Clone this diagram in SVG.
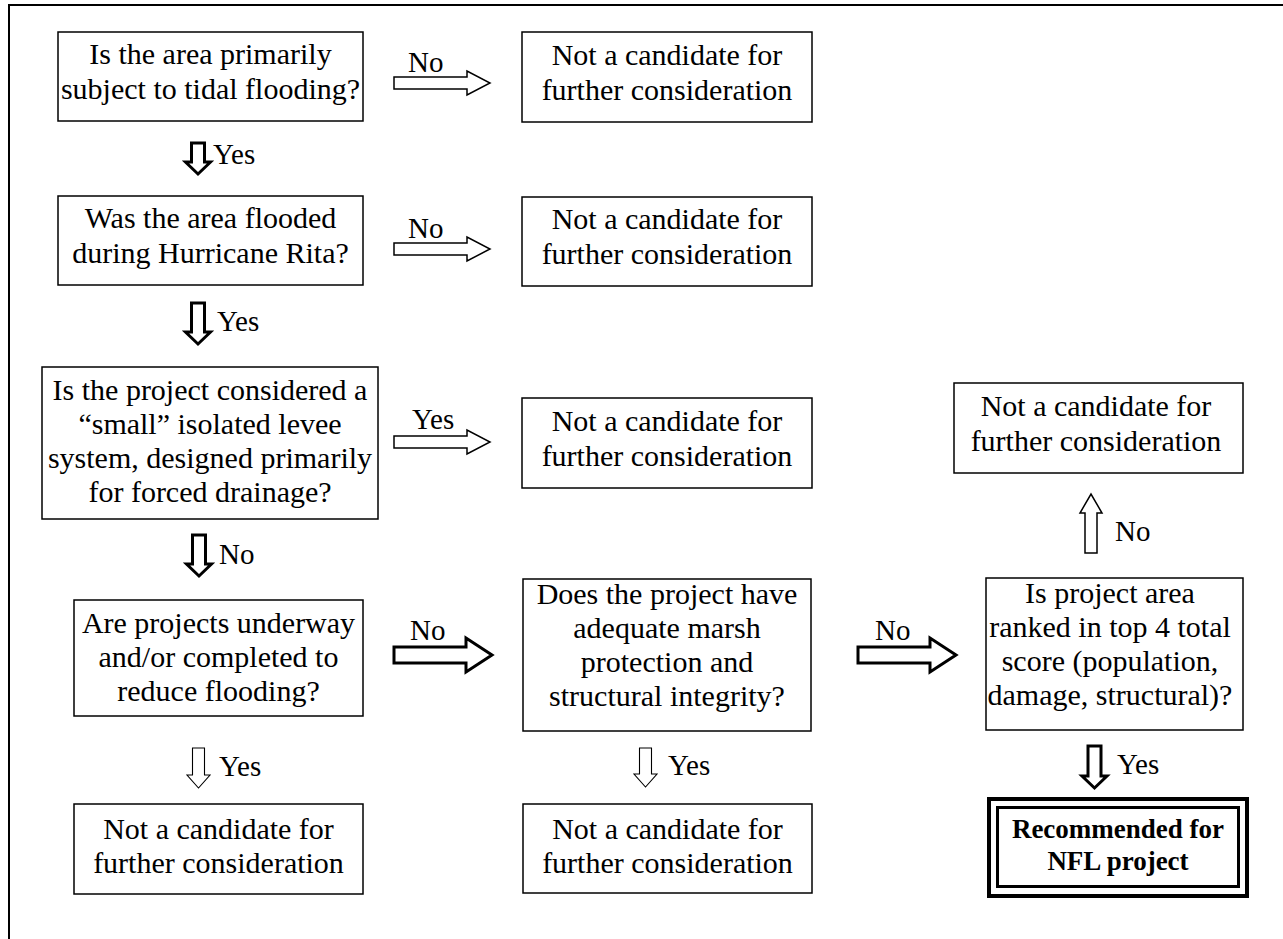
<svg xmlns="http://www.w3.org/2000/svg" width="1283" height="939" viewBox="0 0 1283 939">
<style>
.frame{fill:none;stroke:#000;stroke-width:2}
.box{fill:#fff;stroke:#000;stroke-width:1.5}
.t{font-family:"Liberation Serif","Times New Roman",serif;font-size:30px;fill:#000;text-anchor:middle}
.l{font-family:"Liberation Serif","Times New Roman",serif;font-size:29px;fill:#000}
.b{font-family:"Liberation Serif","Times New Roman",serif;font-size:27px;font-weight:bold;fill:#000;text-anchor:middle}
.thin{fill:#fff;stroke:#000;stroke-width:1.5;stroke-linejoin:miter}
.hair{fill:#fff;stroke:#000;stroke-width:1.1;stroke-linejoin:miter}
.thick{fill:#fff;stroke:#000;stroke-width:3;stroke-linejoin:miter}
</style>
<rect class="frame" x="9" y="5" width="1290" height="950"/>

<g id="connectors">
  <polygon class="thin" points="394,77 467,77 467,71 490,83 467,95 467,89 394,89"/>
  <text class="l" x="408" y="72">No</text>
  <polygon class="thin" points="394,243 467,243 467,237 490,249 467,261 467,255 394,255"/>
  <text class="l" x="408" y="238">No</text>
  <polygon class="thin" points="394,436 467,436 467,430 490,442 467,454 467,448 394,448"/>
  <text class="l" x="412" y="429">Yes</text>

  <polygon class="thick" points="191.5,143 204.5,143 204.5,162 210.5,162 198,174 185.5,162 191.5,162"/>
  <text class="l" x="213" y="164">Yes</text>
  <polygon class="thick" points="191.5,303 204.5,303 204.5,332 210.5,332 198,344 185.5,332 191.5,332"/>
  <text class="l" x="217" y="331">Yes</text>
  <polygon class="thick" points="192.5,535 205.5,535 205.5,564 211.5,564 199,576 186.5,564 192.5,564"/>
  <text class="l" x="219" y="564">No</text>

  <polygon class="thick" points="394,647 466,647 466,638 492,655 466,672 466,663 394,663"/>
  <text class="l" x="410" y="640">No</text>
  <polygon class="thick" points="858,647 930,647 930,638 956,655 930,672 930,663 858,663"/>
  <text class="l" x="875" y="640">No</text>

  <polygon class="hair" points="192.5,748 204.5,748 204.5,775 210,775 198.5,788 187,775 192.5,775"/>
  <text class="l" x="219" y="776">Yes</text>
  <polygon class="hair" points="639.5,748 651.5,748 651.5,774 657,774 645.5,787 634,774 639.5,774"/>
  <text class="l" x="668" y="775">Yes</text>

  <polygon class="thin" points="1085,553 1097,553 1097,513 1102,513 1091,494 1080,513 1085,513"/>
  <text class="l" x="1115" y="541">No</text>
  <polygon class="thick" points="1088,746 1101,746 1101,776 1107,776 1094.5,788 1082,776 1088,776"/>
  <text class="l" x="1117" y="774">Yes</text>
</g>

<g id="q1">
  <rect class="box" x="58" y="32" width="305" height="89"/>
  <text class="t"><tspan x="210.5" y="64">Is the area primarily</tspan><tspan x="210.5" y="99">subject to tidal flooding?</tspan></text>
</g>
<g id="nc1">
  <rect class="box" x="522" y="32" width="290" height="90"/>
  <text class="t"><tspan x="667" y="65">Not a candidate for</tspan><tspan x="667" y="100">further consideration</tspan></text>
</g>
<g id="q2">
  <rect class="box" x="58" y="196" width="305" height="89"/>
  <text class="t"><tspan x="210.5" y="228">Was the area flooded</tspan><tspan x="210.5" y="263">during Hurricane Rita?</tspan></text>
</g>
<g id="nc2">
  <rect class="box" x="522" y="197" width="290" height="89"/>
  <text class="t"><tspan x="667" y="229">Not a candidate for</tspan><tspan x="667" y="264">further consideration</tspan></text>
</g>
<g id="q3">
  <rect class="box" x="42" y="367" width="336" height="152"/>
  <text class="t"><tspan x="210" y="400">Is the project considered a</tspan><tspan x="210" y="434">“small” isolated levee</tspan><tspan x="210" y="468">system, designed primarily</tspan><tspan x="210" y="502">for forced drainage?</tspan></text>
</g>
<g id="nc3">
  <rect class="box" x="522" y="398" width="290" height="90"/>
  <text class="t"><tspan x="667" y="431">Not a candidate for</tspan><tspan x="667" y="466">further consideration</tspan></text>
</g>
<g id="q4">
  <rect class="box" x="74" y="600" width="289" height="116"/>
  <text class="t"><tspan x="218.5" y="633">Are projects underway</tspan><tspan x="218.5" y="667">and/or completed to</tspan><tspan x="218.5" y="701">reduce flooding?</tspan></text>
</g>
<g id="nc4">
  <rect class="box" x="74" y="804" width="289" height="90"/>
  <text class="t"><tspan x="218.5" y="839">Not a candidate for</tspan><tspan x="218.5" y="873">further consideration</tspan></text>
</g>
<g id="q5">
  <rect class="box" x="523" y="579" width="288" height="152"/>
  <text class="t"><tspan x="667" y="604">Does the project have</tspan><tspan x="667" y="638">adequate marsh</tspan><tspan x="667" y="672">protection and</tspan><tspan x="667" y="706">structural integrity?</tspan></text>
</g>
<g id="nc5">
  <rect class="box" x="523" y="804" width="289" height="89"/>
  <text class="t"><tspan x="667.5" y="839">Not a candidate for</tspan><tspan x="667.5" y="873">further consideration</tspan></text>
</g>
<g id="q6">
  <rect class="box" x="986" y="578" width="257" height="152"/>
  <text class="t"><tspan x="1110" y="603">Is project area</tspan><tspan x="1110" y="637">ranked in top 4 total</tspan><tspan x="1110" y="671">score (population,</tspan><tspan x="1110" y="705">damage, structural)?</tspan></text>
</g>
<g id="nc6">
  <rect class="box" x="954" y="383" width="289" height="90"/>
  <text class="t"><tspan x="1096" y="416">Not a candidate for</tspan><tspan x="1096" y="451">further consideration</tspan></text>
</g>
<g id="rec">
  <rect fill="#fff" stroke="#000" stroke-width="4" x="989" y="799" width="258" height="97"/>
  <rect fill="none" stroke="#000" stroke-width="3" x="997.5" y="807.5" width="241" height="79"/>
  <text class="b"><tspan x="1118" y="838">Recommended for</tspan><tspan x="1118" y="870">NFL project</tspan></text>
</g>
</svg>
